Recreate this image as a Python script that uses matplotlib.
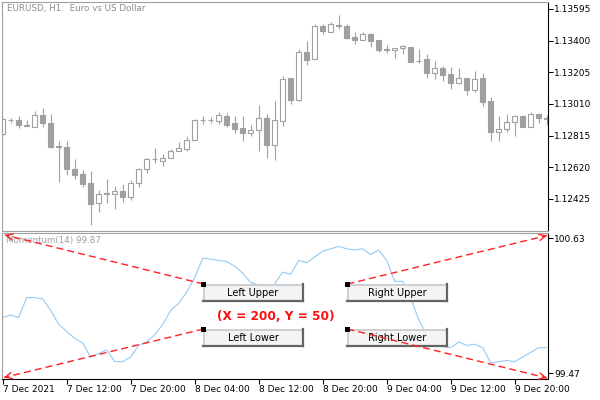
import numpy as np
import matplotlib.pyplot as plt
from matplotlib.patches import Rectangle

# ------------------------- data --------------------------------
# EURUSD H1, one candle per hour starting 7 Dec 2021 04:00
opens = [1.12825, 1.12914, 1.12911, 1.12880, 1.12870, 1.12944, 1.12891, 1.12748, 1.12743, 1.12608,
         1.12579, 1.12522, 1.12399, 1.12459, 1.12454, 1.12474, 1.12437, 1.12522, 1.12608, 1.12674,
         1.12657, 1.12675, 1.12718, 1.12734, 1.12786, 1.12913, 1.12914, 1.12907, 1.12936, 1.12891,
         1.12860, 1.12833, 1.12848, 1.12921, 1.12759, 1.12907, 1.13169, 1.13036, 1.13329, 1.13284,
         1.13489, 1.13454, 1.13498, 1.13489, 1.13421, 1.13405, 1.13438, 1.13401, 1.13348, 1.13340,
         1.13352, 1.13358, 1.13277, 1.13286, 1.13202, 1.13231, 1.13194, 1.13140, 1.13167, 1.13097,
         1.13167, 1.13026, 1.12835, 1.12854, 1.12897, 1.12934, 1.12870, 1.12946, 1.12923]
highs = [1.12923, 1.12921, 1.12936, 1.12911, 1.12964, 1.12985, 1.12948, 1.12782, 1.12782, 1.12669,
         1.12603, 1.12597, 1.12480, 1.12548, 1.12505, 1.12515, 1.12542, 1.12614, 1.12677, 1.12737,
         1.12700, 1.12731, 1.12774, 1.12813, 1.12915, 1.12936, 1.12931, 1.12960, 1.12952, 1.12936,
         1.12936, 1.12878, 1.13001, 1.12948, 1.13028, 1.13182, 1.13169, 1.13348, 1.13397, 1.13500,
         1.13501, 1.13512, 1.13557, 1.13500, 1.13450, 1.13450, 1.13446, 1.13401, 1.13370, 1.13354,
         1.13372, 1.13358, 1.13348, 1.13317, 1.13272, 1.13243, 1.13235, 1.13229, 1.13167, 1.13211,
         1.13198, 1.13051, 1.12936, 1.12948, 1.12944, 1.12940, 1.12960, 1.12946, 1.12942]
lows = [1.12819, 1.12891, 1.12864, 1.12874, 1.12870, 1.12870, 1.12741, 1.12531, 1.12571, 1.12546,
        1.12501, 1.12265, 1.12347, 1.12399, 1.12362, 1.12408, 1.12419, 1.12501, 1.12587, 1.12648,
        1.12630, 1.12675, 1.12718, 1.12722, 1.12786, 1.12885, 1.12894, 1.12885, 1.12870, 1.12833,
        1.12784, 1.12813, 1.12722, 1.12679, 1.12665, 1.12876, 1.13008, 1.13030, 1.13249, 1.13284,
        1.13442, 1.13454, 1.13473, 1.13411, 1.13378, 1.13405, 1.13362, 1.13331, 1.13323, 1.13294,
        1.13319, 1.13268, 1.13263, 1.13171, 1.13165, 1.13153, 1.13104, 1.13131, 1.13067, 1.13085,
        1.12999, 1.12784, 1.12784, 1.12839, 1.12814, 1.12870, 1.12870, 1.12891, 1.12880]
closes = [1.12915, 1.12908, 1.12878, 1.12876, 1.12940, 1.12891, 1.12747, 1.12743, 1.12608, 1.12574,
          1.12519, 1.12396, 1.12454, 1.12456, 1.12474, 1.12435, 1.12522, 1.12608, 1.12669, 1.12671,
          1.12675, 1.12720, 1.12737, 1.12786, 1.12909, 1.12909, 1.12908, 1.12940, 1.12882, 1.12857,
          1.12833, 1.12850, 1.12921, 1.12759, 1.12911, 1.13163, 1.13036, 1.13327, 1.13282, 1.13487,
          1.13460, 1.13500, 1.13492, 1.13417, 1.13405, 1.13438, 1.13399, 1.13343, 1.13343, 1.13354,
          1.13366, 1.13268, 1.13271, 1.13202, 1.13229, 1.13190, 1.13140, 1.13167, 1.13097, 1.13165,
          1.13024, 1.12839, 1.12854, 1.12897, 1.12934, 1.12870, 1.12946, 1.12923, 1.12920]

# Momentum(14)
momentum = [99.95, 99.97, 99.95, 100.12, 100.12, 100.11, 100.01, 99.89, 99.83, 99.77,
            99.73, 99.61, 99.64, 99.67, 99.57, 99.57, 99.61, 99.71, 99.74, 99.80,
            99.89, 100.01, 100.07, 100.17, 100.29, 100.46, 100.45, 100.44, 100.43, 100.39,
            100.33, 100.25, 100.23, 100.20, 100.24, 100.34, 100.32, 100.44, 100.42, 100.47,
            100.52, 100.54, 100.56, 100.54, 100.53, 100.54, 100.49, 100.53, 100.44, 100.26,
            100.26, 100.12, 99.93, 99.80, 99.74, 99.70, 99.69, 99.74, 99.71, 99.72,
            99.69, 99.56, 99.57, 99.58, 99.57, 99.61, 99.65, 99.69, 99.69]

price_ticks = [1.13595, 1.13400, 1.13205, 1.13010, 1.12815, 1.12620, 1.12425]
mom_ticks = [100.63, 99.47]
time_ticks = [0, 8, 16, 24, 32, 40, 48, 56, 64]
time_labels = ['7 Dec 2021', '7 Dec 12:00', '7 Dec 20:00', '8 Dec 04:00', '8 Dec 12:00',
               '8 Dec 20:00', '9 Dec 04:00', '9 Dec 12:00', '9 Dec 20:00']

GRAY = '#a0a0a0'
FS = 6.5

# ------------------------- figure --------------------------------
fig = plt.figure(figsize=(6, 4), dpi=100)
W, H = 600.0, 400.0


def px_axes(x0, y0, x1, y1):
    return fig.add_axes([x0 / W, 1 - y1 / H, (x1 - x0) / W, (y1 - y0) / H])


xlim = ((2 - 2.7) / 8, (548 - 2.7) / 8)

# ------------------------- price panel --------------------------------
ax = px_axes(2, 2, 548, 231)
x = np.arange(len(opens))
o = np.array(opens)
c = np.array(closes)
bull = c > o
lo = np.minimum(o, c)
hgt = np.maximum(np.abs(c - o), 0.00003)

ax.vlines(x, lows, highs, color=GRAY, lw=0.8, zorder=1)
ax.bar(x[bull], hgt[bull], bottom=lo[bull], width=0.56, facecolor='white',
       edgecolor=GRAY, lw=0.8, zorder=2)
ax.bar(x[~bull], hgt[~bull], bottom=lo[~bull], width=0.56, facecolor=GRAY,
       edgecolor=GRAY, lw=0.8, zorder=2)

ax.set_xlim(*xlim)
ax.set_ylim(1.12228, 1.13637)
ax.yaxis.tick_right()
ax.set_yticks(price_ticks)
ax.set_yticklabels(['%.5f' % p for p in price_ticks])
ax.set_xticks([])
ax.tick_params(axis='y', direction='out', length=3.5, width=0.75, pad=1,
               labelsize=FS, colors='black')
for s in ['top', 'left', 'bottom']:
    ax.spines[s].set_color(GRAY)
    ax.spines[s].set_linewidth(0.8)
ax.spines['right'].set_color('black')
ax.spines['right'].set_linewidth(0.8)

# ------------------------- momentum panel --------------------------------
ax2 = px_axes(2, 233, 548, 379)
ax2.plot(x, momentum, color='#94cbf2', lw=0.8)
ax2.set_xlim(*xlim)
ax2.set_ylim(99.421, 100.6755)
ax2.yaxis.tick_right()
ax2.set_yticks(mom_ticks)
ax2.set_yticklabels(['%.2f' % v for v in mom_ticks])
ax2.set_xticks(time_ticks)
ax2.set_xticklabels(time_labels)
for lbl in ax2.get_xticklabels():
    lbl.set_ha('left')
ax2.tick_params(direction='out', length=3.5, width=0.75, pad=1,
                labelsize=FS, colors='black')
for s in ['top', 'left']:
    ax2.spines[s].set_color(GRAY)
    ax2.spines[s].set_linewidth(0.8)
for s in ['right', 'bottom']:
    ax2.spines[s].set_color('black')
    ax2.spines[s].set_linewidth(0.8)

# ------------------------- overlay objects --------------------------------
ov = fig.add_axes([0, 0, 1, 1], zorder=10)
ov.set_xlim(0, W)
ov.set_ylim(H, 0)
ov.axis('off')

ov.text(7, 4.5, 'EURUSD, H1:  Euro vs US Dollar', fontsize=6.3, color='#8c8c8c', va='top')
ov.text(6, 236.5, 'Momentum(14) 99.87', fontsize=6.3, color='#a0a0a0', va='top')

buttons = [('Left Upper', 203, 284), ('Right Upper', 347, 284),
           ('Left Lower', 203, 329), ('Right Lower', 347, 329)]
for label, bx, by in buttons:
    bw, bh = 100, 17
    ov.add_patch(Rectangle((bx, by), bw, bh, facecolor='#f4f4f4', edgecolor='none', zorder=3))
    ov.plot([bx, bx + bw], [by + 0.5, by + 0.5], color='#c8c8c8', lw=1.2, zorder=4)
    ov.plot([bx + 0.5, bx + 0.5], [by, by + bh], color='#c8c8c8', lw=1.2, zorder=4)
    ov.plot([bx, bx + bw], [by + bh - 0.5, by + bh - 0.5], color='#646464', lw=1.6, zorder=4)
    ov.plot([bx + bw - 0.5, bx + bw - 0.5], [by, by + bh], color='#646464', lw=1.6, zorder=4)
    ov.text(bx + bw / 2, by + bh / 2 + 0.5, label, fontsize=7, color='black',
            ha='center', va='center', zorder=5)
    ov.add_patch(Rectangle((bx - 2.5, by - 2.5), 5, 5, facecolor='black',
                           edgecolor='none', zorder=8))

# dashed trend lines drawn over the buttons
RED = '#ff2020'
lines = [((203.5, 284), (5, 235)), ((203.5, 329), (4, 377.5)),
         ((347.5, 284), (547, 235.5)), ((347.5, 329), (547, 378))]
for (x0, y0), (x1, y1) in lines:
    ov.plot([x0, x1], [y0, y1], color=RED, lw=1, dashes=(5, 3), zorder=7)
    dx, dy = x1 - x0, y1 - y0
    n = np.hypot(dx, dy)
    ov.annotate('', xy=(x1, y1), xytext=(x1 - dx / n * 3, y1 - dy / n * 3),
                arrowprops=dict(arrowstyle='->,head_length=0.5,head_width=0.25',
                                color=RED, lw=1, mutation_scale=9, shrinkA=0, shrinkB=0),
                zorder=7)

ov.text(275.7, 316, '(X = 200, Y = 50)', fontsize=8.7, fontweight='bold', color='#ff1010',
        ha='center', va='center')

fig.savefig('out.png', dpi=100)
